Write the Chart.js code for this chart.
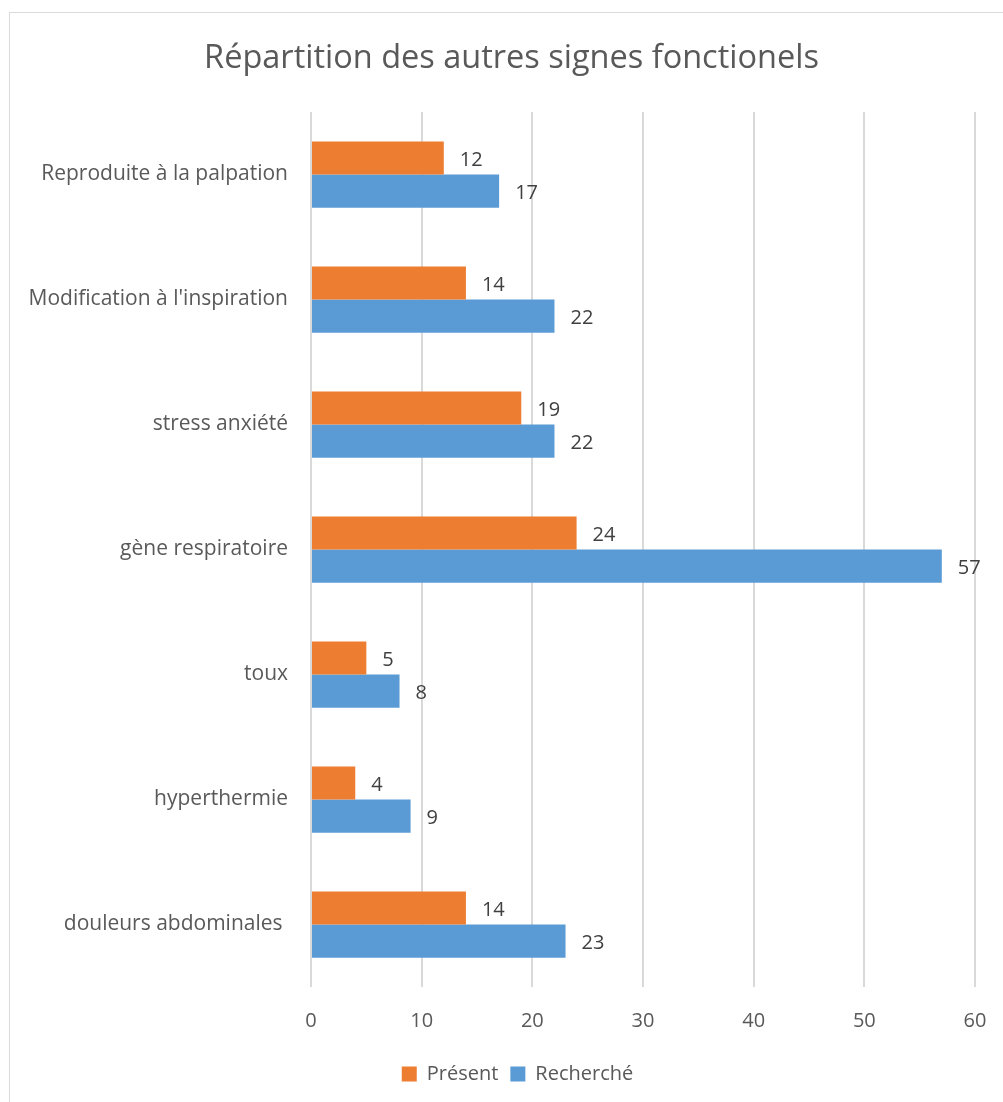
<!DOCTYPE html>
<html>
<head>
<meta charset="utf-8">
<script src="https://cdn.jsdelivr.net/npm/chart.js@4/dist/chart.umd.min.js"></script>
<style>
  body { margin: 0; background: #fff; }
  #frame { position: absolute; left: 9px; top: 12px; width: 1020px; height: 1120px; border: 1px solid #d9d9d9; }
  #chart { position: absolute; left: 0; top: 0; }
</style>
</head>
<body>
<div id="frame"></div>
<canvas id="chart" width="1003" height="1102"></canvas>
<script>
// categories, top to bottom
const categories = [
    'Reproduite à la palpation',
    "Modification à l'inspiration",
    'stress anxiété',
    'gène respiratoire',
    'toux',
    'hyperthermie',
    'douleurs abdominales '
];
const present = [12, 14, 19, 24, 5, 4, 14];
const recherche = [17, 22, 22, 57, 8, 9, 23];
const xTicks = [0, 10, 20, 30, 40, 50, 60];

const FONT = '"Open Sans", Lato, sans-serif';
Chart.defaults.font.family = FONT;
Chart.defaults.color = '#595959';

// draws the value next to the end of each bar
const valueLabels = {
    id: 'valueLabels',
    afterDatasetsDraw(chart) {
        const ctx = chart.ctx;
        ctx.save();
        ctx.font = '20px ' + FONT;
        ctx.fillStyle = '#404040';
        ctx.textAlign = 'left';
        ctx.textBaseline = 'middle';
        chart.data.datasets.forEach((ds, i) => {
            chart.getDatasetMeta(i).data.forEach((bar, j) => {
                ctx.fillText(ds.data[j], bar.x + 16, bar.y + 2);
            });
        });
        ctx.restore();
    }
};

// title and legend sit a bit right of the canvas centre in the original
const shiftBoxes = {
    id: 'shiftBoxes',
    afterLayout(chart) {
        chart.titleBlock.left += 24;
        chart.titleBlock.right += 24;
        chart.legend.left += 30;
        chart.legend.right += 30;
    }
};

new Chart(document.getElementById('chart'), {
    type: 'bar',
    data: {
        labels: categories,
        datasets: [
            { label: 'Présent', data: present, backgroundColor: '#ED7D31' },
            { label: 'Recherché', data: recherche, backgroundColor: '#5B9BD5' }
        ]
    },
    options: {
        indexAxis: 'y',
        responsive: false,
        animation: false,
        layout: { padding: { top: 0, left: 0, right: 28, bottom: 8 } },
        datasets: { bar: { categoryPercentage: 0.53, barPercentage: 1 } },
        scales: {
            x: {
                min: 0,
                max: 60,
                afterBuildTicks: scale => { scale.ticks = xTicks.map(v => ({ value: v })); },
                grid: { color: '#d9d9d9', lineWidth: 2, drawTicks: false },
                border: { display: false },
                ticks: { font: { size: 20 }, padding: 22, color: '#595959' },
                afterFit: scale => {
                    scale.height = 65;
                    scale.paddingRight = 12;
                }
            },
            y: {
                grid: { display: false, drawTicks: false },
                border: { display: false },
                ticks: { font: { size: 21 }, padding: 23, color: '#595959' },
                afterFit: scale => { scale.width = 311; }
            }
        },
        plugins: {
            title: {
                display: true,
                text: 'Répartition des autres signes fonctionels',
                color: '#595959',
                font: { size: 32.5, weight: 'normal' },
                padding: { top: 39, bottom: 34 }
            },
            legend: {
                position: 'bottom',
                labels: {
                    font: { size: 20 },
                    color: '#595959',
                    boxWidth: 15,
                    boxHeight: 15,
                    padding: 12
                }
            },
            tooltip: { enabled: false }
        }
    },
    plugins: [valueLabels, shiftBoxes]
});
</script>
</body>
</html>
